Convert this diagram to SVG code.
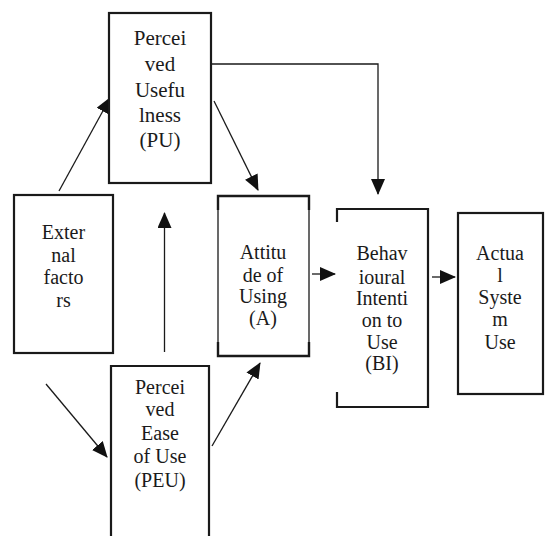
<svg xmlns="http://www.w3.org/2000/svg" width="545" height="536" viewBox="0 0 545 536">
<defs>
<marker id="ah" markerUnits="userSpaceOnUse" markerWidth="16" markerHeight="14" viewBox="0 0 16 14" refX="15" refY="7" orient="auto">
<path d="M0,0 L16,7 L0,14 Z" fill="#111"/>
</marker>
</defs>
<style>
.box{fill:#fff;stroke:#1a1a1a;stroke-width:2.2}
.open{fill:none;stroke:#1a1a1a;stroke-width:2.2}
.thin{fill:none;stroke:#1a1a1a;stroke-width:1.3}
.thick{fill:none;stroke:#1a1a1a;stroke-width:2.4}
.lbl{font-family:"Liberation Serif","Times New Roman",serif;font-size:20px;fill:#1a1a1a;text-anchor:middle}
.big{font-size:21px}
.conn{fill:none;stroke:#1a1a1a;stroke-width:1.3;marker-end:url(#ah)}
</style>
<rect width="545" height="536" fill="#fff"/>
<g id="connectors">
<line class="conn" x1="59" y1="191" x2="110" y2="98"/>
<line class="conn" x1="46" y1="384" x2="107" y2="457"/>
<line class="conn" x1="164.5" y1="352" x2="164.5" y2="213"/>
<line class="conn" x1="214" y1="101" x2="258" y2="190"/>
<line class="conn" x1="212" y1="446" x2="260" y2="363"/>
<path class="conn" d="M211,64 H378 V194"/>
<line class="conn" x1="312" y1="274" x2="335" y2="274"/>
<line class="conn" x1="432" y1="277" x2="455" y2="277"/>
</g>
<g id="pu">
<rect class="box" x="109" y="13" width="102" height="170"/>
<text class="lbl big" x="160" y="45">Percei</text>
<text class="lbl big" x="160" y="71">ved</text>
<text class="lbl big" x="160" y="97">Usefu</text>
<text class="lbl big" x="160" y="122">lness</text>
<text class="lbl big" x="160" y="147">(PU)</text>
</g>
<g id="external">
<rect class="box" x="14" y="195" width="99" height="158"/>
<text class="lbl" x="63.5" y="239">Exter</text>
<text class="lbl" x="63.5" y="262">nal</text>
<text class="lbl" x="63.5" y="284">facto</text>
<text class="lbl" x="63.5" y="307">rs</text>
</g>
<g id="attitude">
<rect class="thin" x="218" y="196" width="91" height="160"/>
<path class="thick" d="M218,210 V196 H309 V210 M218,342 V356 H309 V342"/>
<text class="lbl" x="263" y="259">Attitu</text>
<text class="lbl" x="263" y="282">de of</text>
<text class="lbl" x="263" y="303">Using</text>
<text class="lbl" x="263" y="325">(A)</text>
</g>
<g id="bi">
<path class="open" d="M337,222 V209 H428 V407 H337 V392"/>
<text class="lbl" x="382" y="260">Behav</text>
<text class="lbl" x="382" y="284">ioural</text>
<text class="lbl" x="382" y="305">Intenti</text>
<text class="lbl" x="382" y="327">on to</text>
<text class="lbl" x="382" y="349">Use</text>
<text class="lbl" x="382" y="370">(BI)</text>
</g>
<g id="actual">
<rect class="box" x="458" y="213" width="85" height="181"/>
<text class="lbl" x="500" y="260">Actua</text>
<text class="lbl" x="500" y="282">l</text>
<text class="lbl" x="500" y="304">Syste</text>
<text class="lbl" x="500" y="326">m</text>
<text class="lbl" x="500" y="349">Use</text>
</g>
<g id="peu">
<path class="open" d="M111,540 V366 H209 V540"/>
<text class="lbl" x="160" y="394">Percei</text>
<text class="lbl" x="160" y="416">ved</text>
<text class="lbl" x="160" y="440">Ease</text>
<text class="lbl" x="160" y="463">of Use</text>
<text class="lbl" x="160" y="487">(PEU)</text>
</g>
</svg>
